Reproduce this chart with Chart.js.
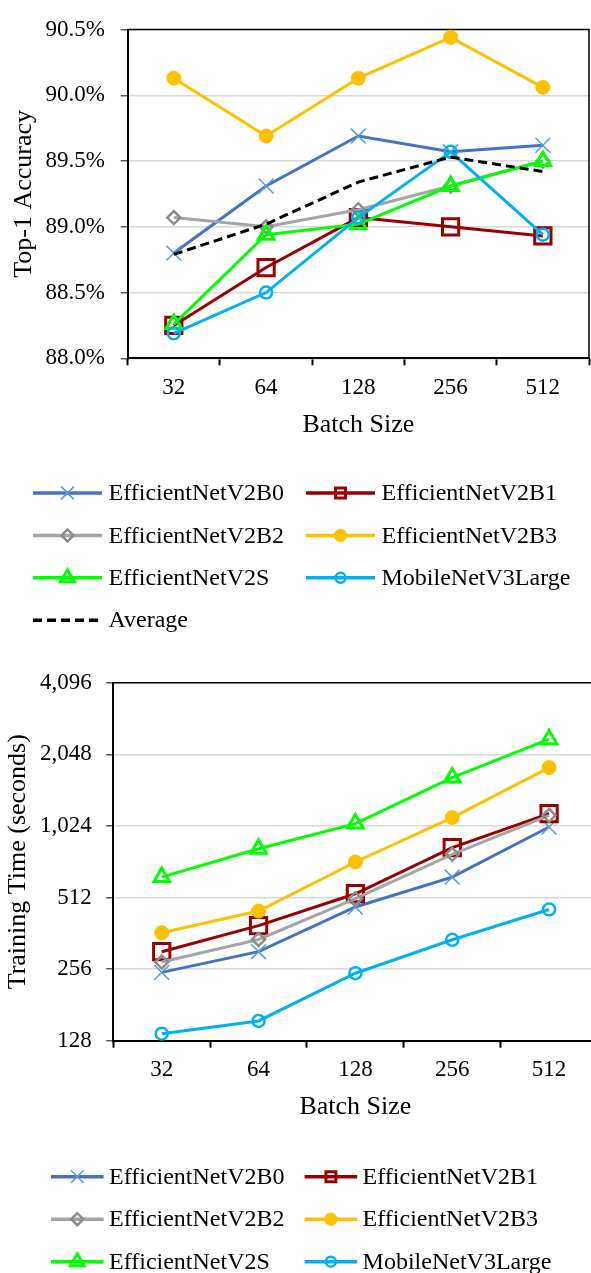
<!DOCTYPE html>
<html>
<head>
<meta charset="utf-8">
<script src="https://cdn.jsdelivr.net/npm/chart.js"></script>
<style>
  html, body { margin: 0; padding: 0; background: #fff; overflow: hidden; }
  body { width: 591px; height: 1273px; position: relative; }
  canvas { position: absolute; left: 0; }
  #accChart { top: 0; }
  #timeChart { top: 650px; }
</style>
</head>
<body>
<canvas id="accChart" width="600" height="650"></canvas>
<canvas id="timeChart" width="600" height="623"></canvas>
<script>
// batch sizes on the x axis
const batchSizes = ['32', '64', '128', '256', '512'];
const seriesNames = ['EfficientNetV2B0', 'EfficientNetV2B1', 'EfficientNetV2B2',
                     'EfficientNetV2B3', 'EfficientNetV2S', 'MobileNetV3Large'];

// top-1 accuracy (%)
const accB0 = [88.80, 89.31, 89.69, 89.57, 89.62];
const accB1 = [88.25, 88.69, 89.07, 89.00, 88.93];
const accB2 = [89.07, 89.00, 89.13, 89.31, 89.50];
const accB3 = [90.13, 89.69, 90.13, 90.44, 90.06];
const accS = [88.26, 88.94, 89.02, 89.31, 89.50];
const accMobile = [88.19, 88.50, 89.07, 89.57, 88.94];
const accAverage = [88.79, 89.02, 89.34, 89.53, 89.42];
const accTicks = [88.0, 88.5, 89.0, 89.5, 90.0, 90.5];

// training time (seconds)
const timeB0 = [248, 303, 467, 624, 1013];
const timeB1 = [303, 390, 531, 830, 1154];
const timeB2 = [274, 341, 506, 778, 1135];
const timeB3 = [364, 449, 722, 1110, 1801];
const timeS = [624, 821, 1047, 1635, 2372];
const timeMobile = [137, 155, 246, 340, 456];
const timeTicks = [128, 256, 512, 1024, 2048, 4096];

const FONT = "'Liberation Serif', 'Times New Roman', serif";
const NONE = 'rgba(0,0,0,0)';
const TICK_SIZE = 23;

const seriesStyles = [
    { line: '#4472c4', point: '#5b9bd5', pointStyle: 'crossRot', radius: 10.5, pointBorder: 1.5, fill: NONE, legendRadius: 9 },
    { line: '#990000', point: '#990000', pointStyle: 'rect', radius: 11.5, pointBorder: 3, fill: NONE, legendRadius: 7 },
    { line: '#a5a5a5', point: '#8c8c8c', pointStyle: 'rectRot', radius: 6.5, pointBorder: 2.5, fill: NONE, legendRadius: 6 },
    { line: '#ffc000', point: '#ffc000', pointStyle: 'circle', radius: 7, pointBorder: 1, fill: '#ffc000', legendRadius: 6.2 },
    { line: '#00ff00', point: '#00ff00', pointStyle: 'triangle', radius: 9, pointBorder: 3, fill: NONE, legendRadius: 8 },
    { line: '#00b0f0', point: '#00b0f0', pointStyle: 'circle', radius: 6, pointBorder: 2.5, fill: NONE, legendRadius: 5 }
];

function buildDatasets(valueLists) {
    return valueLists.map((values, i) => {
        const st = seriesStyles[i];
        return {
            label: seriesNames[i],
            data: values,
            borderColor: st.line,
            borderWidth: 3,
            pointStyle: st.pointStyle,
            pointRadius: st.radius,
            pointHoverRadius: st.radius,
            pointBorderColor: st.point,
            pointBackgroundColor: st.fill,
            pointBorderWidth: st.pointBorder,
            legendRadius: st.legendRadius,
            order: 10 - i
        };
    });
}

// black frame on top and right of the plot area
const framePlugin = {
    id: 'frame',
    beforeDatasetsDraw(chart) {
        const { ctx, chartArea: a } = chart;
        ctx.save();
        ctx.strokeStyle = '#000';
        ctx.lineWidth = 1.5;
        ctx.beginPath();
        ctx.moveTo(a.left, a.top);
        ctx.lineTo(a.right, a.top);
        ctx.lineTo(a.right, a.bottom);
        ctx.stroke();
        ctx.restore();
    }
};

function drawMarker(ctx, ds, x, y) {
    if (ds.pointRadius === 0) return;
    ctx.save();
    ctx.setLineDash([]);
    ctx.strokeStyle = ds.pointBorderColor;
    ctx.fillStyle = ds.pointBackgroundColor;
    ctx.lineWidth = ds.pointBorderWidth;
    Chart.helpers.drawPoint(ctx, {
        pointStyle: ds.pointStyle,
        radius: ds.legendRadius,
        rotation: 0,
        borderWidth: ds.pointBorderWidth
    }, x, y);
    ctx.restore();
}

// two-column legend under each chart
const gridLegendPlugin = {
    id: 'gridLegend',
    afterDraw(chart, args, opts) {
        const ctx = chart.ctx;
        ctx.save();
        ctx.font = `24px ${FONT}`;
        ctx.textBaseline = 'middle';
        ctx.textAlign = 'left';
        chart.data.datasets.forEach((ds, i) => {
            const col = i % 2;
            const row = Math.floor(i / 2);
            const x0 = opts.cols[col];
            const y = opts.top + row * opts.rowGap;
            ctx.strokeStyle = ds.borderColor;
            ctx.lineWidth = 3.5;
            ctx.setLineDash(ds.borderDash || []);
            ctx.beginPath();
            ctx.moveTo(x0, y);
            ctx.lineTo(x0 + opts.sampleWidth, y);
            ctx.stroke();
            drawMarker(ctx, ds, x0 + opts.sampleWidth / 2, y);
            ctx.fillStyle = '#000';
            ctx.fillText(ds.label, x0 + opts.sampleWidth + opts.textGap, y + 1);
        });
        ctx.restore();
    }
};

function xAxis(axisHeight) {
    return {
        type: 'category',
        offset: true,
        grid: { offset: true, drawOnChartArea: false, tickLength: 7, tickColor: '#000', tickWidth: 2 },
        border: { color: '#000', width: 2 },
        ticks: { color: '#000', font: { family: FONT, size: TICK_SIZE }, padding: 8.5, maxRotation: 0, autoSkip: false },
        title: { display: true, text: 'Batch Size', color: '#000', font: { family: FONT, size: 26 }, padding: { top: 0, bottom: 3 } },
        afterFit(scale) { scale.height = axisHeight; }
    };
}

const accDatasets = buildDatasets([accB0, accB1, accB2, accB3, accS, accMobile]);
accDatasets.push({
    label: 'Average',
    data: accAverage,
    borderColor: '#000',
    borderWidth: 3,
    borderDash: [9, 5],
    pointRadius: 0,
    pointHoverRadius: 0,
    order: 1
});

new Chart(document.getElementById('accChart'), {
    type: 'line',
    data: { labels: batchSizes, datasets: accDatasets },
    options: {
        responsive: false,
        animation: false,
        devicePixelRatio: 1,
        events: [],
        elements: { line: { tension: 0 } },
        layout: { autoPadding: false, padding: { left: 0, top: 17.3, right: 11, bottom: 206.7 } },
        plugins: {
            legend: { display: false },
            tooltip: { enabled: false },
            gridLegend: { cols: [33, 306], top: 493, rowGap: 42.4, sampleWidth: 69, textGap: 6.5 }
        },
        scales: {
            x: xAxis(85),
            y: {
                min: 88,
                max: 90.5,
                afterBuildTicks(scale) { scale.ticks = accTicks.map(v => ({ value: v })); },
                grid: { color: '#d9d9d9', lineWidth: 1.5, tickLength: 7, tickColor: '#595959', tickWidth: 1.5 },
                border: { color: '#000', width: 2 },
                ticks: { color: '#000', font: { family: FONT, size: TICK_SIZE }, padding: 15.7, callback: v => v.toFixed(1) + '%' },
                title: { display: true, text: 'Top-1 Accuracy', color: '#000', font: { family: FONT, size: 26 }, padding: { top: 9, bottom: 0 } },
                afterFit(scale) { scale.width = 127.7; }
            }
        }
    },
    plugins: [framePlugin, gridLegendPlugin]
});

const timeDatasets = buildDatasets([timeB0, timeB1, timeB2, timeB3, timeS, timeMobile]);

new Chart(document.getElementById('timeChart'), {
    type: 'line',
    data: { labels: batchSizes, datasets: timeDatasets },
    options: {
        responsive: false,
        animation: false,
        devicePixelRatio: 1,
        events: [],
        elements: { line: { tension: 0 } },
        layout: { autoPadding: false, padding: { left: 0, top: 32.7, right: 2.5, bottom: 147.3 } },
        plugins: {
            legend: { display: false },
            tooltip: { enabled: false },
            gridLegend: { cols: [51, 304.6], top: 526.7, rowGap: 42.5, sampleWidth: 52.6, textGap: 5.4 }
        },
        scales: {
            x: xAxis(85),
            y: {
                type: 'logarithmic',
                min: 128,
                max: 4096,
                afterBuildTicks(scale) { scale.ticks = timeTicks.map(v => ({ value: v })); },
                grid: { color: '#d9d9d9', lineWidth: 1.5, tickLength: 7, tickColor: '#595959', tickWidth: 1.5 },
                border: { color: '#000', width: 2 },
                ticks: { color: '#000', font: { family: FONT, size: TICK_SIZE }, padding: 14.6, callback: v => Number(v).toLocaleString('en-US') },
                title: { display: true, text: 'Training Time (seconds)', color: '#000', font: { family: FONT, size: 26 }, padding: { top: 2.4, bottom: 0 } },
                afterFit(scale) { scale.width = 113.3; }
            }
        }
    },
    plugins: [framePlugin, gridLegendPlugin]
});
</script>
</body>
</html>
